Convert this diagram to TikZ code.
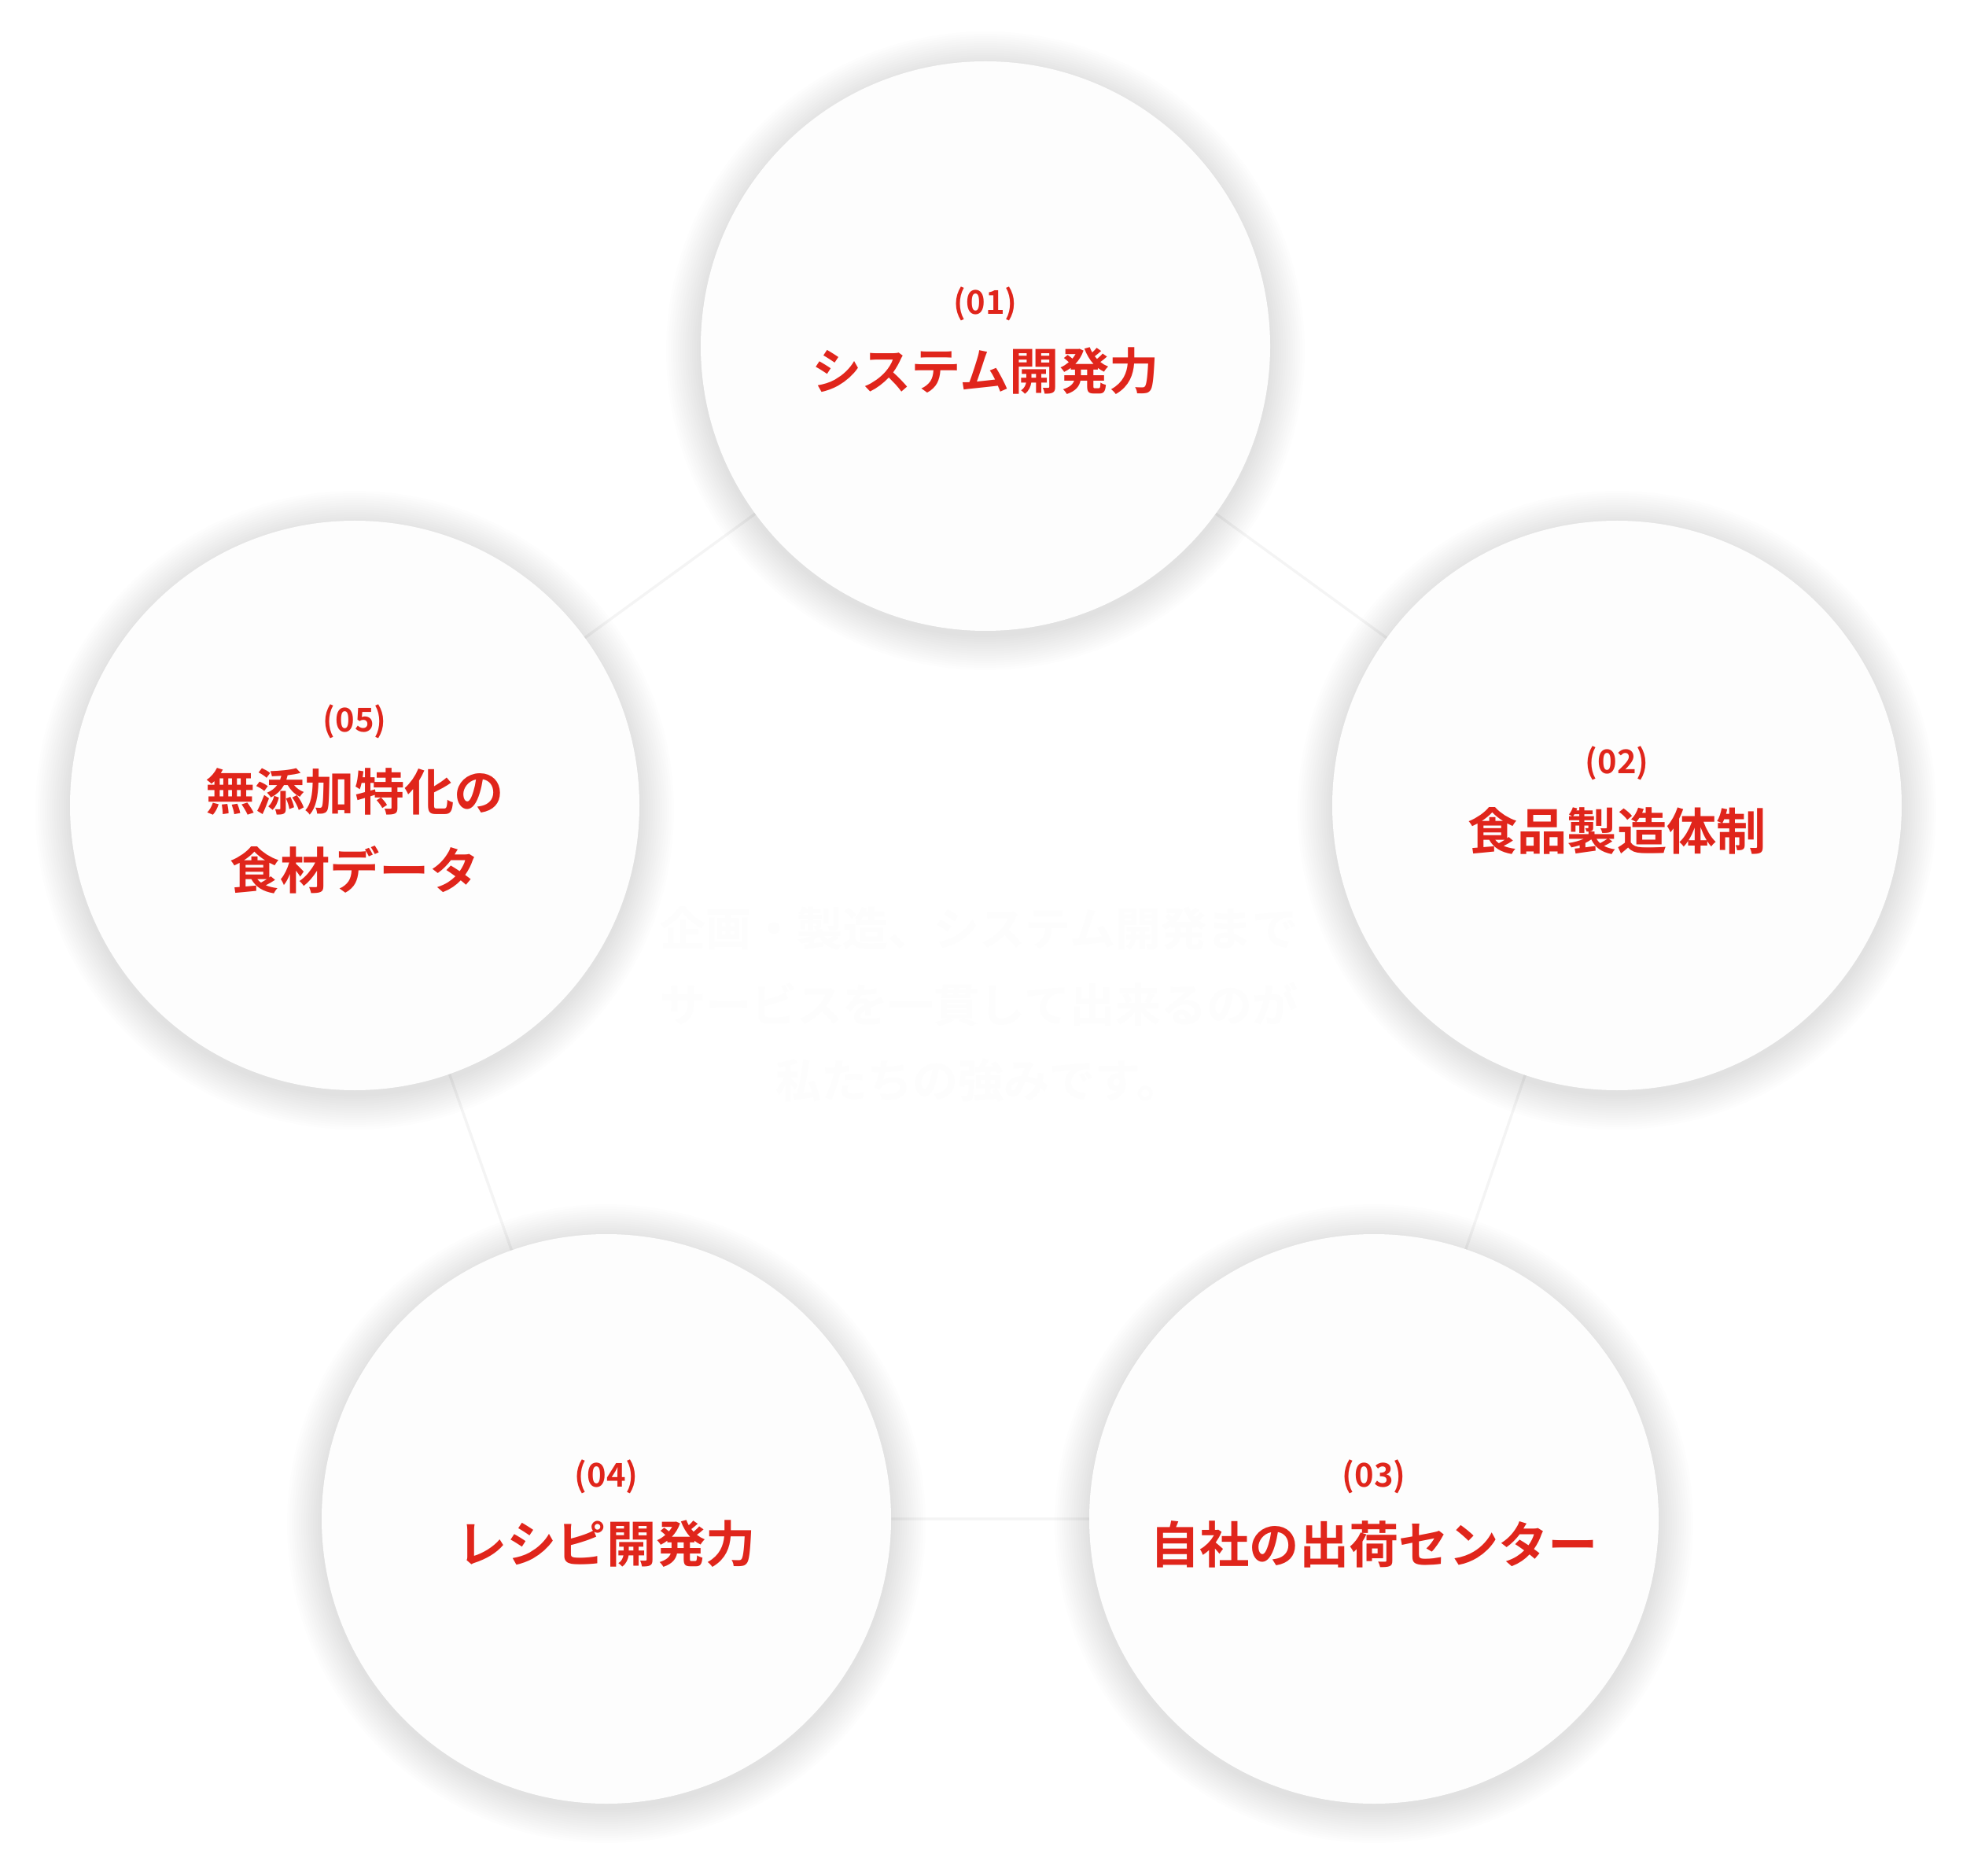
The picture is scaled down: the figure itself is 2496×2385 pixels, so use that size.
\documentclass[tikz,border=0pt]{standalone}
\usepackage{fontspec}
\setmainfont{Noto Sans CJK JP}[BoldFont={* Bold}]
\definecolor{accent}{HTML}{E0251B}
\definecolor{cfill}{HTML}{FDFDFD}
\definecolor{linec}{HTML}{F4F4F4}
\definecolor{ghost}{HTML}{FDFDFD}
\tikzset{
  x=0.3pt,y=-0.3pt,
  bubble/.style={circle,minimum size=724*0.3pt,inner sep=0pt,fill=cfill},
  link/.style={draw=linec,line width=1pt},
  numlab/.style={text=accent,font=\bfseries\fontsize{12.5}{14}\selectfont},
  title/.style={text=accent,font=\bfseries\fontsize{19}{30}\selectfont,align=center},
  ghosttext/.style={text=ghost,font=\bfseries\fontsize{17.4}{29}\selectfont,align=center}
}
\newcommand{\softshadow}[1]{%
  \foreach \k in {0,...,14}{%
    \fill[black,opacity=0.006] ($(#1)+(0,6)$) circle[radius={(362+44-3*\k)*0.3pt}];
  }%
}
\usetikzlibrary{calc}
\begin{document}
\begin{tikzpicture}
\fill[white] (0,0) rectangle (2496,2385);
\useasboundingbox (0,0) rectangle (2496,2385);
\coordinate (c1) at (1253,440);
\coordinate (c2) at (2056,1024);
\coordinate (c3) at (1747,1931);
\coordinate (c4) at (771,1931);
\coordinate (c5) at (451,1024);
\draw[link] (c1) -- (c2) -- (c3) -- (c4) -- (c5) -- (c1);
\foreach \c in {c1,c2,c3,c4,c5}{\softshadow{\c}}
\node[bubble] (b1) at (c1) {};
\node[bubble] (b2) at (c2) {};
\node[bubble] (b3) at (c3) {};
\node[bubble] (b4) at (c4) {};
\node[bubble] (b5) at (c5) {};
\node[numlab] (n1) at (1253,386) {(01)};
\node[title] (t1) at (1253,472) {システム開発力};
\node[numlab] (n2) at (2056,970) {(02)};
\node[title] (t2) at (2056,1056) {食品製造体制};
\node[numlab] (n3) at (1747,1877) {(03)};
\node[title] (t3) at (1747,1963) {自社の出荷センター};
\node[numlab] (n4) at (771,1877) {(04)};
\node[title] (t4) at (771,1963) {レシピ開発力};
\node[numlab] (n5) at (451,917) {(05)};
\node[title] (t5) at (451,1056) {無添加特化の\\食材データ};
\node[ghosttext] (g) at (1245,1277) {企画・製造、システム開発まで\\サービスを一貫して出来るのが\\私たちの強みです。};
\end{tikzpicture}
\end{document}
